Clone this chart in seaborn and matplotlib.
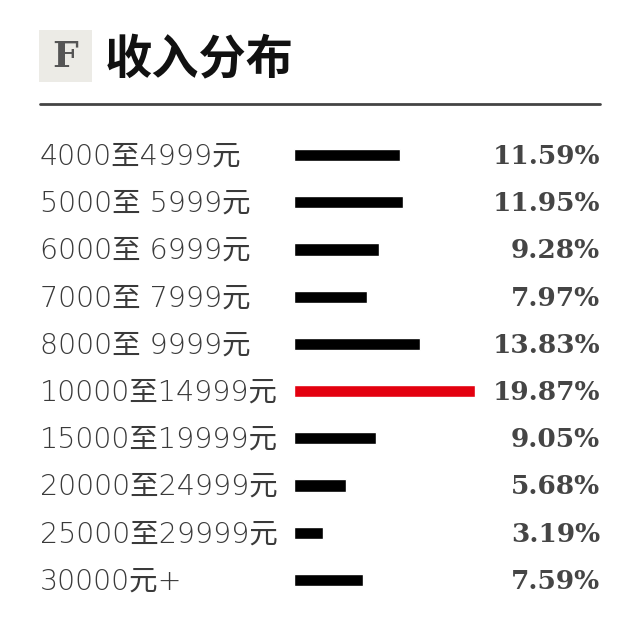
import matplotlib
matplotlib.use("Agg")
import matplotlib.pyplot as plt
import matplotlib.transforms as mtrans
from matplotlib.patches import Rectangle
import pandas as pd
import seaborn as sns

# data
labels = [
    "4000至4999元", "5000至 5999元", "6000至 6999元", "7000至 7999元",
    "8000至 9999元", "10000至14999元", "15000至19999元", "20000至24999元",
    "25000至29999元", "30000元+",
]
shares = [11.59, 11.95, 9.28, 7.97, 13.83, 19.87, 9.05, 5.68, 3.19, 7.59]
highlight = "10000至14999元"

title = "收入分布"
badge = "F"

df = pd.DataFrame({"label": labels, "share": shares})
palette = {lab: ("#e3000f" if lab == highlight else "#000000") for lab in labels}

sns.set_theme(style="white")
plt.rcParams["font.family"] = ["DejaVu Sans", "Noto Sans CJK SC"]

W = H = 640
fig = plt.figure(figsize=(6.4, 6.4), dpi=100)
fig.patch.set_facecolor("white")

# bar area: rows centred from y=155 to y=580 px, bars start at x=294
step = (580 - 155) / (len(labels) - 1)
top = 155 - step / 2
bottom = 580 + step / 2
ax = fig.add_axes([294 / W, 1 - bottom / H, (475 - 294) / W, (bottom - top) / H])

sns.barplot(
    data=df, y="label", x="share", hue="label", palette=palette,
    order=labels, orient="h", width=0.26, legend=False, ax=ax,
    saturation=1,
)
ax.set_xlim(0, max(shares))
ax.set_ylim(len(labels) - 0.5, -0.5)
ax.axis("off")

trans = mtrans.blended_transform_factory(fig.transFigure, ax.transData)
for i, (lab, val) in enumerate(zip(labels, shares)):
    ax.text(40 / W, i + 0.03, lab, transform=trans, ha="left", va="center",
            fontsize=20.5, fontweight="light", color="#3a3a3a", clip_on=False,
            family=["DejaVu Sans", "Noto Sans CJK SC"])
    ax.text(600 / W, i + 0.03, f"{val:.2f}%", transform=trans, ha="right",
            va="center", fontsize=19, fontweight="heavy", color="#454545",
            family="DejaVu Serif", clip_on=False)

# header: badge, title, rule
fig.patches.append(Rectangle((39 / W, 1 - 82 / H), 53 / W, 52 / H,
                             transform=fig.transFigure, facecolor="#ecebe6",
                             edgecolor="none"))
fig.text(65.5 / W, 1 - 57 / H, badge, ha="center", va="center",
         fontsize=26, fontweight="heavy", color="#555555", family="DejaVu Serif")
fig.text(105 / W, 1 - 60 / H, title, ha="left", va="center",
         fontsize=34, fontweight="bold", color="#111111",
         family=["Noto Sans CJK SC"])
fig.add_artist(plt.Line2D([40 / W, 600 / W], [1 - 104 / H, 1 - 104 / H],
                          transform=fig.transFigure, color="#444444", lw=2))

fig.savefig("out.png", dpi=100)
plt.close(fig)
